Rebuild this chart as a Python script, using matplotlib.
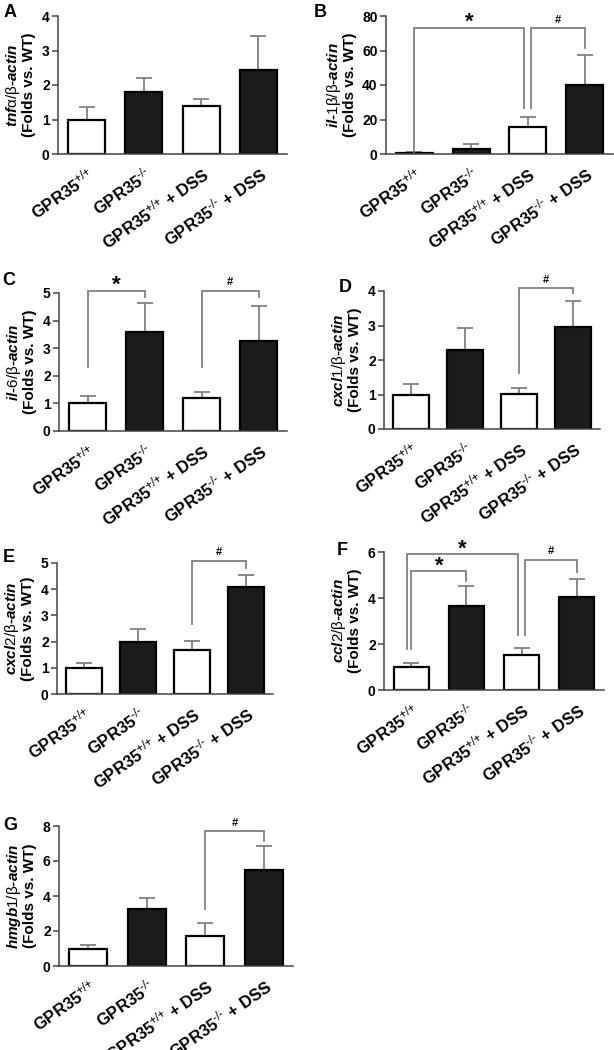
import matplotlib.pyplot as plt
import numpy as np

plt.rcParams['font.family'] = ['Liberation Sans', 'DejaVu Sans']
plt.rcParams['mathtext.fontset'] = 'custom'
plt.rcParams['mathtext.rm'] = 'Liberation Sans'
plt.rcParams['mathtext.it'] = 'Liberation Sans:italic:bold'
plt.rcParams['mathtext.bf'] = 'Liberation Sans:bold'
plt.rcParams['mathtext.default'] = 'rm'

groups = [r'GPR35$^{{+}/{+}}$', r'GPR35$^{\mathrm{‐/‐}}$',
          r'GPR35$^{{+}/{+}}$ + DSS', r'GPR35$^{\mathrm{‐/‐}}$ + DSS']
bar_colors = ['white', '#1c1c1c', 'white', '#1c1c1c']

# mean and SEM (upper)
tnfa_mean = [1.0, 1.8, 1.39, 2.44]
tnfa_err = [0.37, 0.4, 0.19, 0.97]
il1b_mean = [0.8, 2.9, 15.6, 40.0]
il1b_err = [0.6, 3.0, 5.6, 17.2]
il6_mean = [1.0, 3.57, 1.18, 3.27]
il6_err = [0.27, 1.08, 0.25, 1.25]
cxcl1_mean = [1.0, 2.29, 1.02, 2.95]
cxcl1_err = [0.31, 0.63, 0.18, 0.76]
cxcl2_mean = [1.0, 1.97, 1.67, 4.08]
cxcl2_err = [0.18, 0.53, 0.37, 0.46]
ccl2_mean = [1.0, 3.66, 1.52, 4.05]
ccl2_err = [0.18, 0.86, 0.3, 0.79]
hmgb1_mean = [0.98, 3.28, 1.71, 5.47]
hmgb1_err = [0.24, 0.62, 0.77, 1.39]

# significance brackets: (bar1, bar2, top, left leg end, right leg end, mark)
il1b_sig = [(0, 2, 73, 1.3, 26.4, '*'), (2, 3, 73, 26.4, 61.5, '#')]
il6_sig = [(0, 1, 5.08, 2.33, 4.85, '*'), (2, 3, 5.08, 2.33, 4.85, '#')]
cxcl1_sig = [(2, 3, 4.08, 1.62, 3.93, '#')]
cxcl2_sig = [(2, 3, 5.09, 2.68, 4.81, '#')]
ccl2_sig = [(0, 2, 5.9, 1.8, 2.38, '*'), (0, 1, 5.16, 1.8, 4.72, '*'),
            (2, 3, 5.66, 2.38, 5.13, '#')]
hmgb1_sig = [(2, 3, 7.71, 3.24, 7.16, '#')]

W, H = 614, 1050

# letter, ylabel, mean, err, brackets, yticks, axes box in px (l, r, t, b), letter pos
panels = [
    ('A', r'$\mathit{tnf}\mathrm{α/β}$-$\mathit{actin}$', tnfa_mean, tnfa_err, [],
     [0, 1, 2, 3, 4], (58, 287, 16, 154), (4, 4)),
    ('B', r'$\mathit{il}$-$\mathit{1}\mathrm{β/β}$-$\mathit{actin}$', il1b_mean, il1b_err, il1b_sig,
     [0, 20, 40, 60, 80], (386, 613, 16, 154), (314, 4)),
    ('C', r'$\mathit{il}$-$\mathit{6}\mathrm{/β}$-$\mathit{actin}$', il6_mean, il6_err, il6_sig,
     [0, 1, 2, 3, 4, 5], (59, 287, 293, 431), (2, 272)),
    ('D', r'$\mathit{cxcl1}\mathrm{/β}$-$\mathit{actin}$', cxcl1_mean, cxcl1_err, cxcl1_sig,
     [0, 1, 2, 3, 4], (384, 600, 291, 429), (339, 279)),
    ('E', r'$\mathit{cxcl2}\mathrm{/β}$-$\mathit{actin}$', cxcl2_mean, cxcl2_err, cxcl2_sig,
     [0, 1, 2, 3, 4, 5], (57, 273, 563, 694), (3, 549)),
    ('F', r'$\mathit{ccl2}\mathrm{/β}$-$\mathit{actin}$', ccl2_mean, ccl2_err, ccl2_sig,
     [0, 2, 4, 6], (384, 604, 552, 690), (337, 542)),
    ('G', r'$\mathit{hmgb1}\mathrm{/β}$-$\mathit{actin}$', hmgb1_mean, hmgb1_err, hmgb1_sig,
     [0, 2, 4, 6, 8], (59, 293, 826, 966), (3, 817)),
]

axis_col = '#444444'
line_col = '#808080'

fig = plt.figure(figsize=(W / 100, H / 100), dpi=100)

for letter, gene, mean, err, sig, yticks, box, lpos in panels:
    l, r, t, b = box
    ax = fig.add_axes([l / W, 1 - b / H, (r - l) / W, (b - t) / H])
    x = np.arange(len(groups))
    ax.errorbar(x, mean, yerr=[np.zeros(len(err)), err], fmt='none',
                ecolor=line_col, elinewidth=1.3, capsize=6, capthick=1.3, zorder=1)
    ax.bar(x, mean, width=0.65, color=bar_colors, edgecolor='black',
           linewidth=1.6, zorder=2)
    ax.set_xlim(-0.5, 3.5)
    ax.set_ylim(0, yticks[-1])
    ax.set_yticks(yticks)
    ax.set_xticks(x)
    ax.set_xticklabels(groups, rotation=35, ha='right', rotation_mode='anchor',
                       fontsize=12, fontweight='bold')
    ax.tick_params(axis='x', length=0, pad=7)
    ax.tick_params(axis='y', length=4, width=1.1, color=axis_col, pad=2,
                   labelsize=10)
    for lab in ax.get_yticklabels():
        lab.set_fontweight('bold')
    for s in ['top', 'right']:
        ax.spines[s].set_visible(False)
    for s in ['left', 'bottom']:
        ax.spines[s].set_color(axis_col)
        ax.spines[s].set_linewidth(1.1)
    ax.set_ylabel(gene + '\n(Folds vs. WT)', fontsize=11, fontweight='bold',
                  linespacing=1.0, labelpad=4)

    # legs that share a bar are nudged apart
    used = {}
    for b1, b2, top, y1, y2, mark in sig:
        used[b1] = used.get(b1, 0) + 1
        used[b2] = used.get(b2, 0) + 1
    for b1, b2, top, y1, y2, mark in sig:
        x1, x2 = b1, b2
        if used[b1] > 1 and b1 == 2:
            x1 = b1 + 0.06
        if used[b2] > 1 and b2 == 2:
            x2 = b2 - 0.06
        if letter == 'F' and b1 == 0 and b2 == 2:
            x1 = b1 - 0.09
        ax.plot([x1, x1, x2, x2], [y1, top, top, y2], color=line_col,
                lw=1.3, clip_on=False, solid_joinstyle='miter')
        if mark == '*':
            ax.annotate('*', ((x1 + x2) / 2, top), xytext=(0, 0),
                        textcoords='offset points', ha='center', va='baseline',
                        fontsize=16, fontweight='bold', annotation_clip=False)
        else:
            ax.annotate('#', ((x1 + x2) / 2, top), xytext=(0, 4),
                        textcoords='offset points', ha='center', va='baseline',
                        fontsize=8, fontweight='bold', annotation_clip=False)

    fig.text(lpos[0] / W, 1 - lpos[1] / H, letter, ha='left', va='top',
             fontsize=13, fontweight='bold')

fig.savefig('out.png', dpi=100, facecolor='white')
